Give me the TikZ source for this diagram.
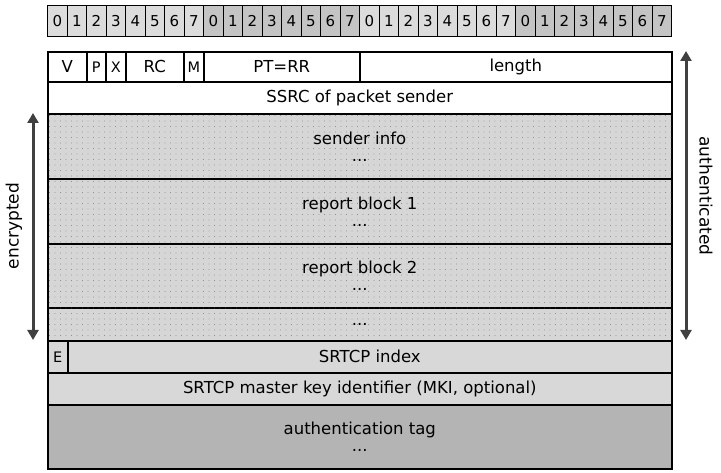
\documentclass[tikz,border=0pt]{standalone}
\usepackage{fontspec}
\setmainfont{DejaVu Sans}
\usetikzlibrary{patterns.meta,arrows.meta}
\definecolor{bitA}{HTML}{DCDCDC}
\definecolor{bitB}{HTML}{C4C4C4}
\definecolor{dotbg}{HTML}{D6D6D6}
\definecolor{srt}{HTML}{D8D8D8}
\definecolor{auth}{HTML}{B4B4B4}
\definecolor{arr}{HTML}{404040}
\begin{document}
\begin{tikzpicture}[x=1pt,y=-1pt,
  cell/.style={draw=black,line width=1.6pt,anchor=north west,inner sep=0pt,font=\fontsize{16.5}{19}\selectfont},
  small/.style={font=\fontsize{14.5}{16}\selectfont},
  dotrow/.style={cell,fill=dotbg,postaction={pattern={Dots[distance=5.5pt,radius=0.35pt]},pattern color=black!60}},
  bigarrow/.style={draw=arr,line width=3pt,{Triangle[length=10pt,width=11pt]}-{Triangle[length=10pt,width=11pt]}}]
\useasboundingbox (0,0) rectangle (721,473);
\foreach \i in {0,...,31}{
  \pgfmathtruncatemacro{\b}{mod(\i,8)}
  \pgfmathtruncatemacro{\by}{mod(floor(\i/8),2)}
  \ifnum\by=0 \def\cc{bitA}\else\def\cc{bitB}\fi
  \node[cell,line width=1.2pt,fill=\cc,minimum width=19.5pt,minimum height=31pt,font=\fontsize{15}{17}\selectfont] (bit\i) at ({47+19.5*\i},5) {\b};
}
\node[cell,minimum width=39pt,minimum height=30pt] (v) at (47,51) {V};
\node[cell,small,minimum width=19pt,minimum height=30pt] (p) at (86,51) {P};
\node[cell,small,minimum width=20pt,minimum height=30pt] (x) at (105,51) {X};
\node[cell,minimum width=58pt,minimum height=30pt] (rc) at (125,51) {RC};
\node[cell,small,minimum width=20pt,minimum height=30pt] (m) at (183,51) {M};
\node[cell,minimum width=156pt,minimum height=30pt] (pt) at (203,51) {PT=RR};
\node[cell,minimum width=312pt,minimum height=30pt] (len) at (359,51) {length};
\node[cell,fill=white,minimum width=624pt,minimum height=32pt] (ssrc) at (47,81) {SSRC of packet sender};
\node[dotrow,minimum width=624pt,minimum height=65pt,align=center] (si) at (47,113) {sender info\\[-2pt]...};
\node[dotrow,minimum width=624pt,minimum height=65pt,align=center] (rb1) at (47,178) {report block 1\\[-2pt]...};
\node[dotrow,minimum width=624pt,minimum height=64pt,align=center] (rb2) at (47,243) {report block 2\\[-2pt]...};
\node[dotrow,minimum width=624pt,minimum height=33pt] (more) at (47,307) {...};
\node[cell,small,fill=srt,minimum width=20pt,minimum height=32pt] (e) at (47,340) {E};
\node[cell,fill=srt,minimum width=604pt,minimum height=32pt] (idx) at (67,340) {SRTCP index};
\node[cell,fill=srt,minimum width=624pt,minimum height=32pt] (mki) at (47,372) {SRTCP master key identifier (MKI, optional)};
\node[cell,fill=auth,minimum width=624pt,minimum height=64pt,align=center] (tag) at (47,404) {authentication tag\\[-2pt]...};
\coordinate (el) at (33,113); \coordinate (el2) at (33,340);
\coordinate (ar) at (686,51); \coordinate (ar2) at (686,340);
\draw[bigarrow] (el) -- (el2);
\draw[bigarrow] (ar) -- (ar2);
\node[rotate=90,font=\fontsize{17}{19}\selectfont] (enc) at (14,226) {encrypted};
\node[rotate=-90,font=\fontsize{17}{19}\selectfont] (aut) at (706,196) {authenticated};
\end{tikzpicture}
\end{document}
